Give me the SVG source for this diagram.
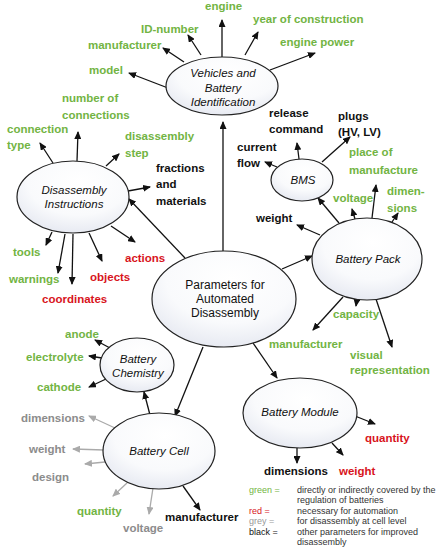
<svg xmlns="http://www.w3.org/2000/svg" width="441" height="550" viewBox="0 0 441 550">
<style>
.lbl{font-family:"Liberation Sans",Arial,sans-serif;font-weight:bold;font-size:11.5px}
.g{fill:#72b443}.r{fill:#d8141c}.k{fill:#111}.gy{fill:#8c8c8c}
.node ellipse{fill:url(#ng);stroke:#222;stroke-width:1.2}
.ttl{font-family:"Liberation Sans",Arial,sans-serif;font-style:italic;font-size:11.5px;fill:#111;text-anchor:middle}
.main{font-family:"Liberation Sans",Arial,sans-serif;font-size:12px;fill:#111;text-anchor:middle}
.con line{stroke:#111;stroke-width:1.3;marker-end:url(#ah)}
.con line.gl{stroke:#aaa;marker-end:url(#ahg)}
.leg{font-family:"Liberation Sans",Arial,sans-serif;font-size:9px;fill:#333}
</style>
<defs>
<radialGradient id="ng" cx="55%" cy="30%" r="75%">
<stop offset="0" stop-color="#ffffff"/>
<stop offset="0.6" stop-color="#f9fafc"/>
<stop offset="1" stop-color="#e4e7f0"/>
</radialGradient>
<marker id="ah" markerUnits="userSpaceOnUse" markerWidth="8" markerHeight="7" refX="7" refY="3.5" orient="auto"><path d="M0,0 L8,3.5 L0,7 z" fill="#111"/></marker>
<marker id="ahg" markerUnits="userSpaceOnUse" markerWidth="8" markerHeight="7" refX="7" refY="3.5" orient="auto"><path d="M0,0 L8,3.5 L0,7 z" fill="#aaa"/></marker>
</defs>

<g id="connectors" class="con">
<line x1="168" y1="88" x2="129" y2="73"/>
<line x1="184" y1="62" x2="163" y2="48"/>
<line x1="201" y1="55" x2="188" y2="35"/>
<line x1="222" y1="57" x2="222" y2="20"/>
<line x1="245" y1="55" x2="258" y2="32"/>
<line x1="270" y1="70" x2="315" y2="53"/>
<line x1="223" y1="251" x2="223" y2="122"/>
<line x1="53" y1="163" x2="40" y2="143"/>
<line x1="77" y1="161" x2="78" y2="132"/>
<line x1="106" y1="166" x2="119" y2="154"/>
<line x1="128" y1="191" x2="150" y2="187"/>
<line x1="111" y1="226" x2="135" y2="242"/>
<line x1="89" y1="233" x2="102" y2="261"/>
<line x1="73" y1="234" x2="72" y2="284"/>
<line x1="65" y1="234" x2="58" y2="273"/>
<line x1="52" y1="232" x2="46" y2="245"/>
<line x1="185" y1="258" x2="129" y2="199"/>
<line x1="277" y1="167" x2="265" y2="162"/>
<line x1="299" y1="159" x2="297" y2="143"/>
<line x1="322" y1="162" x2="350" y2="137"/>
<line x1="339" y1="223" x2="318" y2="198"/>
<line x1="320" y1="235" x2="297" y2="225"/>
<line x1="355" y1="219" x2="352" y2="209"/>
<line x1="372" y1="218" x2="376" y2="185"/>
<line x1="392" y1="222" x2="398" y2="213"/>
<line x1="282" y1="269" x2="312" y2="256"/>
<line x1="357" y1="299" x2="356" y2="306"/>
<line x1="343" y1="297" x2="313" y2="330"/>
<line x1="376" y1="299" x2="392" y2="347"/>
<line x1="253" y1="343" x2="277" y2="378"/>
<line x1="203" y1="347" x2="175" y2="416"/>
<line x1="150" y1="415" x2="144" y2="392"/>
<line x1="110" y1="348" x2="95" y2="340"/>
<line x1="102" y1="358" x2="89" y2="356"/>
<line x1="106" y1="379" x2="89" y2="387"/>
<line class="gl" x1="115" y1="428" x2="89" y2="416"/>
<line class="gl" x1="104" y1="450" x2="73" y2="449"/>
<line class="gl" x1="105" y1="462" x2="85" y2="464"/>
<line class="gl" x1="127" y1="483" x2="113" y2="496"/>
<line class="gl" x1="153" y1="488" x2="149" y2="514"/>
<line x1="183" y1="486" x2="200" y2="510"/>
<line x1="355" y1="416" x2="375" y2="424"/>
<line x1="332" y1="443" x2="343" y2="455"/>
<line x1="297" y1="448" x2="297" y2="463"/>
</g>

<g id="n-vehicles" class="node">
<ellipse cx="222" cy="86" rx="56" ry="29"/>
<text class="ttl" x="223" y="77">Vehicles and</text>
<text class="ttl" x="223" y="92">Battery</text>
<text class="ttl" x="223" y="106">Identification</text>
</g>
<g id="n-disassembly" class="node">
<ellipse cx="73" cy="197" rx="56" ry="36"/>
<text class="ttl" x="74" y="194">Disassembly</text>
<text class="ttl" x="74" y="208">Instructions</text>
</g>
<g id="n-bms" class="node">
<ellipse cx="302" cy="180" rx="31" ry="21"/>
<text class="ttl" x="303" y="184">BMS</text>
</g>
<g id="n-pack" class="node">
<ellipse cx="367" cy="259" rx="55" ry="41"/>
<text class="ttl" x="368" y="263">Battery Pack</text>
</g>
<g id="n-params" class="node">
<ellipse cx="224" cy="299" rx="72" ry="48"/>
<text class="main" x="225" y="289">Parameters for</text>
<text class="main" x="225" y="303">Automated</text>
<text class="main" x="225" y="317">Disassembly</text>
</g>
<g id="n-chemistry" class="node">
<ellipse cx="137" cy="365" rx="37" ry="27"/>
<text class="ttl" x="138" y="363">Battery</text>
<text class="ttl" x="138" y="377">Chemistry</text>
</g>
<g id="n-cell" class="node">
<ellipse cx="159" cy="451" rx="56" ry="38"/>
<text class="ttl" x="159" y="455">Battery Cell</text>
</g>
<g id="n-module" class="node">
<ellipse cx="300" cy="413" rx="57" ry="35"/>
<text class="ttl" x="300" y="416">Battery Module</text>
</g>

<g id="labels" class="lbl">
<text class="g" x="205" y="10">engine</text>
<text class="g" x="253" y="23">year of construction</text>
<text class="g" x="280" y="46">engine power</text>
<text class="g" x="141" y="33">ID-number</text>
<text class="g" x="88" y="49">manufacturer</text>
<text class="g" x="89" y="74">model</text>
<text class="g" x="62" y="102">number of</text>
<text class="g" x="62" y="119">connections</text>
<text class="g" x="7" y="133">connection</text>
<text class="g" x="7" y="149">type</text>
<text class="g" x="125" y="140">disassembly</text>
<text class="g" x="125" y="157">step</text>
<text class="k" x="156" y="172">fractions</text>
<text class="k" x="156" y="188">and</text>
<text class="k" x="156" y="205">materials</text>
<text class="g" x="13" y="256">tools</text>
<text class="g" x="9" y="283">warnings</text>
<text class="r" x="90" y="281">objects</text>
<text class="r" x="125" y="262">actions</text>
<text class="r" x="42" y="303">coordinates</text>
<text class="k" x="269" y="117">release</text>
<text class="k" x="269" y="133">command</text>
<text class="k" x="338" y="120">plugs</text>
<text class="k" x="338" y="136">(HV, LV)</text>
<text class="k" x="237" y="151">current</text>
<text class="k" x="237" y="167">flow</text>
<text class="g" x="349" y="156">place of</text>
<text class="g" x="349" y="174">manufacture</text>
<text class="g" x="333" y="202">voltage</text>
<text class="g" x="387" y="195">dimen-</text>
<text class="g" x="387" y="212">sions</text>
<text class="k" x="256" y="222">weight</text>
<text class="g" x="333" y="318">capacity</text>
<text class="g" x="269" y="348">manufacturer</text>
<text class="g" x="350" y="359">visual</text>
<text class="g" x="350" y="374">representation</text>
<text class="r" x="365" y="442">quantity</text>
<text class="k" x="264" y="475">dimensions</text>
<text class="r" x="339" y="475">weight</text>
<text class="g" x="65" y="338">anode</text>
<text class="g" x="26" y="361">electrolyte</text>
<text class="g" x="37" y="391">cathode</text>
<text class="gy" x="21" y="422">dimensions</text>
<text class="gy" x="29" y="453">weight</text>
<text class="gy" x="32" y="481">design</text>
<text class="g" x="77" y="515">quantity</text>
<text class="gy" x="123" y="532">voltage</text>
<text class="k" x="165" y="521">manufacturer</text>
</g>

<g id="legend" class="leg">
<text x="249" y="493" style="fill:#72b443">green =</text>
<text x="297" y="493">directly or indirectly covered by the</text>
<text x="297" y="503">regulation of batteries</text>
<text x="249" y="513.5" style="fill:#d8141c">red =</text>
<text x="297" y="513.5">necessary for automation</text>
<text x="249" y="524" style="fill:#999">grey =</text>
<text x="297" y="524">for disassembly at cell level</text>
<text x="249" y="534.5" style="fill:#111">black =</text>
<text x="297" y="534.5">other parameters for improved</text>
<text x="297" y="545">disassembly</text>
</g>
</svg>
